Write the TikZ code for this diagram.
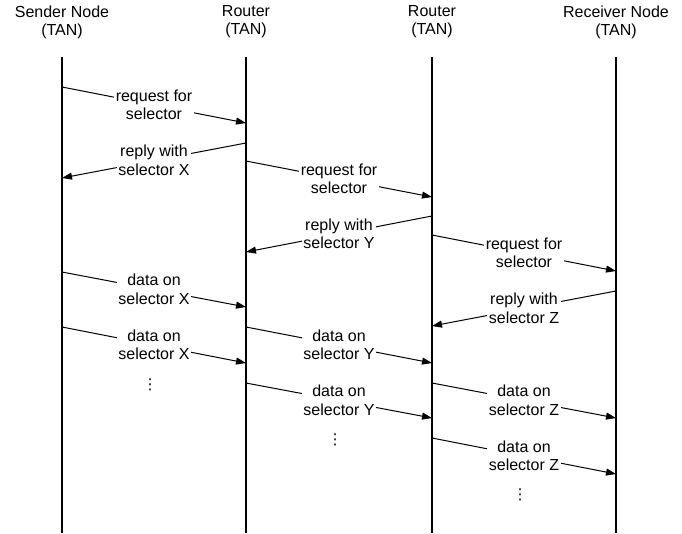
\documentclass[tikz,border=0pt]{standalone}
\usepackage{fontspec}
\setmainfont{Liberation Sans}
\newfontfamily\dejavu{DejaVu Sans}
\usetikzlibrary{arrows.meta}
\begin{document}
\begin{tikzpicture}[x=1pt,y=-1pt,
  life/.style={line width=2pt},
  msg/.style={line width=1pt,-{Triangle[length=10pt,width=7pt]}},
  lbl/.style={fill=white,inner sep=1.5pt,align=center,font=\fontsize{16}{18.5}\selectfont},
  head/.style={align=center,inner sep=0pt,font=\fontsize{16}{18}\selectfont},
  dots/.style={anchor=base,inner sep=0pt,font=\dejavu\fontsize{15}{18}\selectfont}]
\useasboundingbox (0,0) rectangle (682,533);
% headers
\node[head] (hS)  at (62,22)  {Sender Node\\(TAN)};
\node[head] (hR1) at (246,22) {Router\\(TAN)};
\node[head] (hR2) at (432,22) {Router\\(TAN)};
\node[head] (hRc) at (616,22) {Receiver Node\\(TAN)};
% lifelines
\coordinate (S)   at (62,57);  \coordinate (Sb)  at (62,533);
\coordinate (R1)  at (246,57); \coordinate (R1b) at (246,533);
\coordinate (R2)  at (432,57); \coordinate (R2b) at (432,533);
\coordinate (Rc)  at (616,57); \coordinate (Rcb) at (616,533);
\draw[life] (S) -- (Sb);
\draw[life] (R1) -- (R1b);
\draw[life] (R2) -- (R2b);
\draw[life] (Rc) -- (Rcb);
% message end points
\coordinate (m1a) at (62,87);   \coordinate (m1b) at (246,123);
\coordinate (m2a) at (246,143); \coordinate (m2b) at (62,178);
\coordinate (m3a) at (246,161); \coordinate (m3b) at (432,197);
\coordinate (m4a) at (432,216); \coordinate (m4b) at (246,252);
\coordinate (m5a) at (432,235); \coordinate (m5b) at (616,271);
\coordinate (m6a) at (616,291); \coordinate (m6b) at (432,326);
\coordinate (m7a) at (62,272);  \coordinate (m7b) at (246,307);
\coordinate (m8a) at (62,327);  \coordinate (m8b) at (246,363);
\coordinate (m9a) at (246,327); \coordinate (m9b) at (432,363);
\coordinate (m10a) at (246,383); \coordinate (m10b) at (432,418);
\coordinate (m11a) at (432,383); \coordinate (m11b) at (616,418);
\coordinate (m12a) at (432,438); \coordinate (m12b) at (616,474);
% messages
\draw[msg] (m1a) -- node[lbl] (l1) {request for\\selector} (m1b);
\draw[msg] (m2a) -- node[lbl] (l2) {reply with\\selector X} (m2b);
\draw[msg] (m3a) -- node[lbl] (l3) {request for\\selector} (m3b);
\draw[msg] (m4a) -- node[lbl] (l4) {reply with\\selector Y} (m4b);
\draw[msg] (m5a) -- node[lbl] (l5) {request for\\selector} (m5b);
\draw[msg] (m6a) -- node[lbl] (l6) {reply with\\selector Z} (m6b);
\draw[msg] (m7a) -- node[lbl] (l7) {data on\\selector X} (m7b);
\draw[msg] (m8a) -- node[lbl] (l8) {data on\\selector X} (m8b);
\draw[msg] (m9a) -- node[lbl] (l9) {data on\\selector Y} (m9b);
\draw[msg] (m10a) -- node[lbl] (l10) {data on\\selector Y} (m10b);
\draw[msg] (m11a) -- node[lbl] (l11) {data on\\selector Z} (m11b);
\draw[msg] (m12a) -- node[lbl] (l12) {data on\\selector Z} (m12b);
% continuation dots
\node[dots] (d1) at (150,389) {⋮};
\node[dots] (d2) at (335,444) {⋮};
\node[dots] (d3) at (520,499) {⋮};
\end{tikzpicture}
\end{document}
